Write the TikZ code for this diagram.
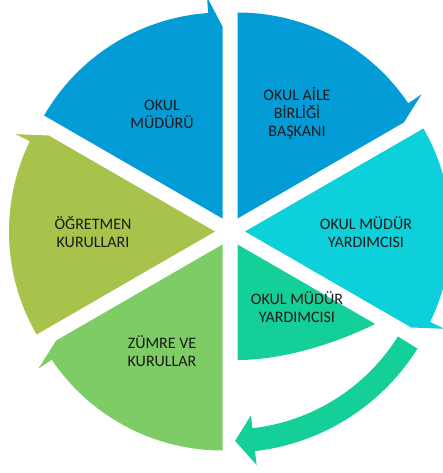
\documentclass[tikz,border=0pt]{standalone}
\usepackage{fontspec}
\setmainfont{Carlito}
\usetikzlibrary{calc}
\definecolor{cblue}{HTML}{049CD6}
\definecolor{cteal}{HTML}{0DD0DA}
\definecolor{cmint}{HTML}{15CF98}
\definecolor{cgreen}{HTML}{7ECC65}
\definecolor{colive}{HTML}{A7C34B}
\definecolor{ctext}{HTML}{1A1A1A}
\newcommand{\cyclewedge}[3]{%
  \pgfmathsetmacro\cwArrow{#2-60}%
  \pgfmathsetmacro\cwEnd{#2-56}%
  \fill[#3] (#1) -- ($(#1)+(#2:206pt)$)
    arc[start angle=#2, end angle=\cwEnd, radius=206pt]
    -- ($(#1)+(\cwEnd:222pt)$) -- ($(#1)+(\cwArrow:192pt)$) -- cycle;}
\tikzset{
  lbl/.style={align=center, text=ctext, font=\fontsize{16}{18}\selectfont, inner sep=0pt},
}
\begin{document}
\begin{tikzpicture}[x=1pt,y=-1pt]
\useasboundingbox (0,0) rectangle (442,473);
\coordinate (C) at (230,231.5);
\coordinate (A1) at ($(C)+(60:15pt)$);
\coordinate (A2) at ($(C)+(0:15pt)$);
\coordinate (A3) at ($(C)+(-60:15pt)$);
\coordinate (A4) at ($(C)+(-120:15pt)$);
\coordinate (A5) at ($(C)+(180:15pt)$);
\coordinate (A6) at ($(C)+(120:15pt)$);
% wedges with arrowheads (clockwise)
\cyclewedge{A6}{150}{cblue}
\cyclewedge{A1}{90}{cblue}
\cyclewedge{A2}{30}{cteal}
\cyclewedge{A4}{-90}{cgreen}
\cyclewedge{A5}{210}{colive}
% inner mint sector
\fill[cmint] (A3) -- ($(A3)+(-30:159pt)$) .. controls (330,346) and (280,360) .. (237.5,360) -- cycle;
% curved mint arrow
\fill[cmint] ($(C)+(-32:221pt)$) arc[start angle=-32, end angle=-83.5, radius=221pt]
  -- ($(C)+(-83.5:235pt)$) -- ($(C)+(-88.6:209.5pt)$) -- ($(C)+(-83.5:185pt)$)
  -- ($(C)+(-83.5:198pt)$) arc[start angle=-83.5, end angle=-32, radius=198pt] -- cycle;
% labels
\node[lbl] (t1) at (162,114) {OKUL\\MÜDÜRÜ};
\node[lbl] (t2) at (297,113.5) {OKUL AİLE\\BİRLİĞİ\\BAŞKANI};
\node[lbl] (t3) at (366,232) {OKUL MÜDÜR\\YARDIMCISI};
\node[lbl] (t4) at (297,307.5) {OKUL MÜDÜR\\YARDIMCISI};
\node[lbl] (t5) at (162,351.5) {ZÜMRE VE\\KURULLAR};
\node[lbl] (t6) at (93,232) {ÖĞRETMEN\\KURULLARI};
\end{tikzpicture}
\end{document}
